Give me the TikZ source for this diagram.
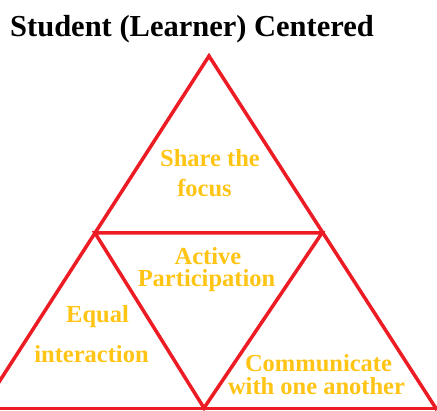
\documentclass[tikz,border=0pt]{standalone}
\usepackage{fontspec}
\setmainfont{Liberation Serif}
\definecolor{redl}{RGB}{237,28,36}
\definecolor{goldl}{RGB}{255,196,20}
\tikzset{
  tri/.style={draw=redl, line width=3.5pt, line join=miter},
  lbl/.style={text=goldl, font=\fontsize{24.5}{26}\selectfont\bfseries, anchor=base, inner sep=0pt},
  ttl/.style={text=black, font=\fontsize{30.5}{32}\selectfont\bfseries, anchor=base west, inner sep=0pt}
}
\begin{document}
\begin{tikzpicture}[x=1pt,y=-1pt]
\useasboundingbox (0,0) rectangle (437,411);
\clip (0,0) rectangle (437,411);
\fill[white] (0,0) rectangle (437,411);
\coordinate (A) at (209,56);
\coordinate (L) at (95,233);
\coordinate (R) at (322,233);
\coordinate (B) at (204,408);
\coordinate (BL) at (-19,410);
\coordinate (BR) at (437,410);
\coordinate (E0) at (0,409);
\coordinate (E1) at (437,409);
\draw[tri] (BL) -- (A) -- (BR);
\draw[tri] (L) -- (R) -- (B) -- cycle;
\draw[draw=redl, line width=3pt] (E0) -- (E1);
\node[ttl] (title) at (10,37) {Student (Learner) Centered};
\node[lbl] (s1) at (210,167) {Share the};
\node[lbl] (s2) at (204.5,197) {focus};
\node[lbl] (a1) at (208,265) {Active};
\node[lbl] (a2) at (206.5,287) {Participation};
\node[lbl] (e1) at (97.5,323) {Equal};
\node[lbl] (e2) at (91.5,363) {interaction};
\node[lbl] (c1) at (318.5,372) {Communicate};
\node[lbl] (c2) at (316.5,395) {with one another};
\end{tikzpicture}
\end{document}
